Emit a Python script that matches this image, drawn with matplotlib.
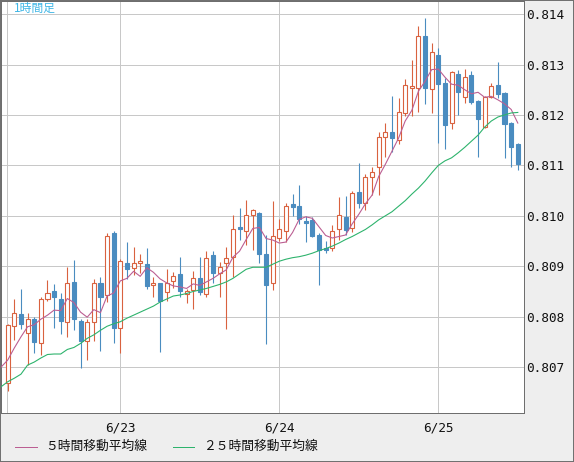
import matplotlib
matplotlib.use('Agg')
import matplotlib.pyplot as plt
from matplotlib.lines import Line2D
from matplotlib.patches import Rectangle

# 1-hour candles (k = 0 .. 77), 6/23 0:00 is candle 17
opens = [0.80669, 0.80782, 0.80805, 0.80768, 0.80795, 0.80748, 0.80835, 0.80851, 0.80835, 0.80790,
         0.80869, 0.80791, 0.80752, 0.80790, 0.80867, 0.80843, 0.80966, 0.80778, 0.80906, 0.80897,
         0.80906, 0.80904, 0.80863, 0.80867, 0.80849, 0.80871, 0.80885, 0.80845, 0.80853, 0.80877,
         0.80845, 0.80922, 0.80887, 0.80906, 0.80918, 0.80978, 0.80970, 0.81002, 0.81006, 0.80924,
         0.80867, 0.80956, 0.80970, 0.81023, 0.81019, 0.80990, 0.80992, 0.80962, 0.80936, 0.80936,
         0.80974, 0.80998, 0.80976, 0.81047, 0.81025, 0.81077, 0.81097, 0.81156, 0.81166, 0.81150,
         0.81204, 0.81253, 0.81253, 0.81357, 0.81251, 0.81319, 0.81263, 0.81184, 0.81281, 0.81236,
         0.81279, 0.81228, 0.81176, 0.81236, 0.81259, 0.81244, 0.81184, 0.81142]
highs = [0.80786, 0.80835, 0.80855, 0.80807, 0.80799, 0.80839, 0.80873, 0.80865, 0.80847, 0.80898,
         0.80912, 0.80795, 0.80795, 0.80875, 0.80879, 0.80966, 0.80970, 0.80914, 0.80948, 0.80938,
         0.80924, 0.80936, 0.80879, 0.80867, 0.80895, 0.80889, 0.80918, 0.80855, 0.80891, 0.80918,
         0.80930, 0.80930, 0.80908, 0.80938, 0.81002, 0.81015, 0.81031, 0.81014, 0.81008, 0.80962,
         0.81029, 0.80994, 0.81025, 0.81043, 0.81061, 0.81000, 0.80998, 0.80966, 0.80950, 0.80982,
         0.81037, 0.81039, 0.81049, 0.81105, 0.81083, 0.81097, 0.81166, 0.81184, 0.81238, 0.81234,
         0.81271, 0.81309, 0.81376, 0.81392, 0.81343, 0.81333, 0.81273, 0.81287, 0.81289, 0.81291,
         0.81287, 0.81230, 0.81238, 0.81263, 0.81305, 0.81246, 0.81186, 0.81144]
lows = [0.80653, 0.80754, 0.80776, 0.80704, 0.80728, 0.80724, 0.80831, 0.80778, 0.80766, 0.80760,
        0.80774, 0.80698, 0.80714, 0.80752, 0.80732, 0.80829, 0.80748, 0.80728, 0.80875, 0.80883,
        0.80887, 0.80855, 0.80839, 0.80730, 0.80831, 0.80857, 0.80839, 0.80827, 0.80815, 0.80843,
        0.80839, 0.80867, 0.80839, 0.80776, 0.80879, 0.80952, 0.80942, 0.80932, 0.80906, 0.80746,
        0.80853, 0.80950, 0.80948, 0.81000, 0.80984, 0.80948, 0.80958, 0.80863, 0.80926, 0.80930,
        0.80952, 0.80962, 0.80968, 0.81015, 0.81012, 0.81041, 0.81041, 0.81117, 0.81127, 0.81142,
        0.81198, 0.81198, 0.81206, 0.81222, 0.81204, 0.81144, 0.81132, 0.81172, 0.81200, 0.81224,
        0.81222, 0.81117, 0.81174, 0.81234, 0.81234, 0.81115, 0.81097, 0.81091]
closes = [0.80784, 0.80807, 0.80786, 0.80795, 0.80750, 0.80835, 0.80847, 0.80839, 0.80791, 0.80867,
          0.80795, 0.80752, 0.80790, 0.80867, 0.80839, 0.80960, 0.80778, 0.80910, 0.80895, 0.80906,
          0.80910, 0.80861, 0.80867, 0.80831, 0.80867, 0.80881, 0.80851, 0.80851, 0.80877, 0.80849,
          0.80916, 0.80887, 0.80898, 0.80916, 0.80974, 0.80974, 0.81002, 0.81012, 0.80924, 0.80863,
          0.80960, 0.80974, 0.81019, 0.81017, 0.80994, 0.80986, 0.80960, 0.80932, 0.80932, 0.80970,
          0.81002, 0.80972, 0.81045, 0.81025, 0.81077, 0.81087, 0.81156, 0.81166, 0.81154, 0.81206,
          0.81259, 0.81257, 0.81357, 0.81253, 0.81325, 0.81261, 0.81180, 0.81285, 0.81246, 0.81275,
          0.81226, 0.81192, 0.81236, 0.81257, 0.81242, 0.81182, 0.81136, 0.81103]

# moving averages, first value is the hour before candle 0 (cut off at the left edge)
ma5 = [0.80700, 0.80714, 0.80738, 0.80760, 0.80780, 0.80784, 0.80795, 0.80803, 0.80813, 0.80812,
       0.80836, 0.80828, 0.80809, 0.80799, 0.80814, 0.80808, 0.80841, 0.80847, 0.80871, 0.80876,
       0.80890, 0.80880, 0.80897, 0.80888, 0.80875, 0.80867, 0.80861, 0.80859, 0.80856, 0.80865,
       0.80862, 0.80869, 0.80876, 0.80885, 0.80893, 0.80918, 0.80930, 0.80953, 0.80975, 0.80977,
       0.80955, 0.80952, 0.80946, 0.80948, 0.80967, 0.80993, 0.80998, 0.80995, 0.80978, 0.80961,
       0.80956, 0.80959, 0.80962, 0.80984, 0.81003, 0.81024, 0.81041, 0.81078, 0.81102, 0.81128,
       0.81154, 0.81188, 0.81209, 0.81247, 0.81267, 0.81290, 0.81291, 0.81275, 0.81261, 0.81259,
       0.81250, 0.81242, 0.81245, 0.81235, 0.81237, 0.81230, 0.81222, 0.81211, 0.81184]
ma25 = [0.80661, 0.80671, 0.80678, 0.80686, 0.80704, 0.80710, 0.80718, 0.80725, 0.80726, 0.80726,
        0.80735, 0.80739, 0.80747, 0.80757, 0.80764, 0.80773, 0.80781, 0.80786, 0.80790, 0.80797,
        0.80803, 0.80809, 0.80815, 0.80821, 0.80829, 0.80835, 0.80841, 0.80843, 0.80846, 0.80850,
        0.80853, 0.80856, 0.80860, 0.80864, 0.80869, 0.80876, 0.80885, 0.80894, 0.80898, 0.80898,
        0.80898, 0.80904, 0.80910, 0.80914, 0.80917, 0.80919, 0.80922, 0.80926, 0.80931, 0.80935,
        0.80940, 0.80946, 0.80953, 0.80959, 0.80966, 0.80973, 0.80982, 0.80992, 0.81000, 0.81008,
        0.81019, 0.81030, 0.81043, 0.81055, 0.81069, 0.81085, 0.81100, 0.81109, 0.81115, 0.81125,
        0.81136, 0.81148, 0.81160, 0.81176, 0.81188, 0.81196, 0.81200, 0.81204, 0.81205]

price_ticks = [0.807, 0.808, 0.809, 0.810, 0.811, 0.812, 0.813, 0.814]
date_pos = [17, 41, 65]
date_labels = ['6/23', '6/24', '6/25']

UP = '#d9623f'
DOWN = '#4a8cc0'
GRID = '#c8c8c8'
BORDER = '#6e6e6e'
PX = 0.72  # one pixel in points

W, H = 574, 462
fig = plt.figure(figsize=(W / 100, H / 100), dpi=100, facecolor='#eeeeee')
ax = fig.add_axes([0.5 / W, 49.5 / H, 523 / W, 412 / H], facecolor='white')

ax.set_xlim(-1.087, 77.86)
ax.set_ylim(0.80610, 0.81427)

# grid
for p in price_ticks:
    ax.axhline(p, color=GRID, lw=PX, zorder=1)
for x in [-0.1] + date_pos:
    ax.axvline(x, color=GRID, lw=PX, zorder=1)

# candles
n = len(opens)
xs = list(range(n))
for i in xs:
    o, h, l, c = opens[i], highs[i], lows[i], closes[i]
    up = c >= o
    col = UP if up else DOWN
    ax.vlines(i, l, h, color=col, lw=PX * 1.1, zorder=3)
    bottom = min(o, c)
    height = max(abs(c - o), 0.00002)
    ax.bar(i, height, width=0.62, bottom=bottom,
           facecolor='white' if up else DOWN, edgecolor=col, lw=PX * 1.1, zorder=4)

# moving averages
ma_x = [-1] + xs
ax.plot(ma_x, ma5, color='#bb5e92', lw=PX * 1.1, zorder=5)
ax.plot(ma_x, ma25, color='#2db36c', lw=PX * 1.1, zorder=5)

# axes styling
for s in ax.spines.values():
    s.set_color(BORDER)
    s.set_linewidth(PX)
ax.yaxis.tick_right()
ax.set_yticks(price_ticks)
ax.set_yticklabels([f'{p:.3f}' for p in price_ticks])
ax.set_xticks(date_pos)
ax.set_xticklabels(date_labels)
ax.tick_params(length=0, labelsize=9.2, labelcolor='#111111')
ax.tick_params(axis='y', pad=2)
ax.tick_params(axis='x', pad=6.5)
for t in ax.get_xticklabels() + ax.get_yticklabels():
    t.set_family('DejaVu Sans Mono')

# title in the corner
fig.text(14 / W, 1 - 2 / H, '1時間足', color='#3fb6e6', fontsize=8.5,
         family=['Noto Sans CJK JP', 'DejaVu Sans'], va='top', ha='left', zorder=0)

# legend at the bottom
ly = 1 - 446.7 / H
fig.add_artist(Line2D([15 / W, 37 / W], [ly, ly], color='#bb5e92', lw=PX))
fig.text(45 / W, ly, '５時間移動平均線', fontsize=9.2, color='#111111',
         family=['Noto Sans CJK JP', 'DejaVu Sans'], va='center', ha='left')
fig.add_artist(Line2D([173 / W, 194 / W], [ly, ly], color='#2db36c', lw=PX))
fig.text(203 / W, ly, '２５時間移動平均線', fontsize=9.2, color='#111111',
         family=['Noto Sans CJK JP', 'DejaVu Sans'], va='center', ha='left')

# outer frame
fig.add_artist(Rectangle((0, 0), 1, 1, transform=fig.transFigure, fill=False,
                         edgecolor=BORDER, lw=1.4))

fig.savefig('out.png', dpi=100, facecolor=fig.get_facecolor())
